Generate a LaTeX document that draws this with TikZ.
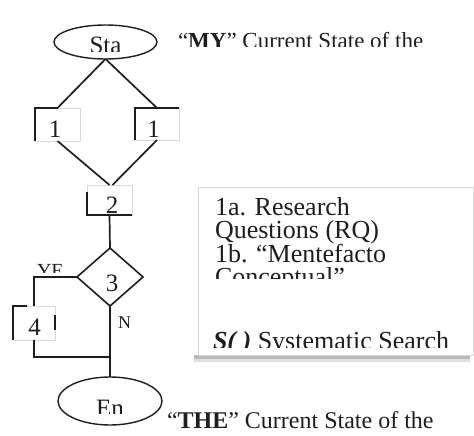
\documentclass[tikz,border=0pt]{standalone}
\usepackage{fontspec}
\setmainfont{Liberation Serif}
\usetikzlibrary{shapes.geometric,calc}
\definecolor{ink}{HTML}{1E1E1E}
\definecolor{faint}{HTML}{D8D8D8}
\begin{document}
\begin{tikzpicture}[x=1pt,y=-1pt,line width=1.7pt,draw=ink,
  shp/.style={draw=faint,line width=0.8pt,inner sep=0pt,outer sep=0pt},
  oval/.style={ellipse,draw=ink,line width=1.4pt,inner sep=0pt,outer sep=0pt},
  dia/.style={diamond,draw=ink,line width=1.6pt,inner sep=0pt,outer sep=0pt},
  txt/.style={inner sep=0pt,outer sep=0pt,text=ink,font=\fontsize{25}{23.3}\selectfont},
  boxtxt/.style={inner sep=0pt,outer sep=0pt,text=ink,font=\fontsize{26}{23.3}\selectfont,anchor=base west},
  lbl/.style={inner sep=0pt,outer sep=0pt,text=ink,font=\fontsize{20}{20}\selectfont},
  edge/.style={draw=ink,line width=1.7pt}]
\useasboundingbox (0,0) rectangle (474,436);

% side text box with shadow
\fill[gray!55] (194,355) rectangle (470,359);
\fill[gray!25] (194,359) rectangle (470,362);
\node[shp,fill=white,draw=faint,minimum width=275pt,minimum height=168pt,anchor=north west] (box) at (198,187) {};

% shapes
\node[oval,minimum width=103pt,minimum height=34pt] (st) at (105.5,42) {};
\node[shp,minimum width=45pt,minimum height=33pt] (b1l) at (57.5,124.5) {};
\node[shp,minimum width=44pt,minimum height=32pt] (b1r) at (157,124) {};
\node[shp,minimum width=45pt,minimum height=30pt] (b2) at (109.5,200) {};
\node[dia,minimum width=66pt,minimum height=58pt] (d3) at (110,277) {};
\node[shp,minimum width=42pt,minimum height=34pt] (b4) at (34,323) {};
\node[oval,minimum width=104pt,minimum height=48pt] (en) at (110,401) {};
\coordinate (j) at (110,357);

% visible box edges
\draw[edge] (b1l.north) -- (b1l.north west) -- (b1l.south west);
\draw[edge] (b1r.north east) -- (b1r.north west) -- (b1r.south west);
\draw[edge] ($(b2.north west)+(0,7)$) -- (b2.south west) -- (b2.south east);
\draw[edge] ($(b4.north west)+(14,0)$) -- (b4.north west) -- (b4.south west);
\draw[edge] ($(b4.north east)+(0,9)$) -- ($(b4.north east)+(0,24)$);

% connectors
\draw[edge] (st.south) -- (b1l.north);
\draw[edge] (st.south) -- (b1r.north);
\draw[edge] (b1l.south) -- (b2.north);
\draw[edge] (b1r.south) -- ($(b2.north)+(3,0)$);
\draw[edge] (b2.south) -- (d3.north);
\draw[edge] (d3.west) -| (b4.north);
\draw[edge] (b4.south) |- (j);
\draw[edge] (d3.south) -- (en.north);

% texts (clipped like the reference)
\begin{scope}
  \clip (0,0) rectangle (474,52);
  \node[txt,anchor=base] (tsta) at (105.5,53.5) {Sta};
\end{scope}
\begin{scope}
  \clip (0,0) rectangle (474,47);
  \node[txt,anchor=base west,font=\fontsize{23}{23}\selectfont] (tmy) at (178,49) {“\textbf{MY}” Current State of the};
\end{scope}
\node[txt,anchor=base] (t1l) at (55,137) {1};
\node[txt,anchor=base] (t1r) at (153.5,137) {1};
\node[txt,anchor=base] (t2) at (112,213) {2};
\node[txt,anchor=base] (t3) at (112,291) {3};
\node[txt,anchor=base] (t4) at (34.5,335) {4};
\begin{scope}
  \clip (0,0) rectangle (474,272);
  \node[lbl,anchor=base west] (tye) at (37,277) {YE};
\end{scope}
\node[lbl,anchor=base west,font=\fontsize{18}{18}\selectfont] (tn) at (118,328) {N};
\begin{scope}
  \clip (0,0) rectangle (474,413);
  \node[txt,anchor=base] (ten) at (110,416.5) {En};
\end{scope}
\node[txt,anchor=base west,font=\fontsize{24}{24}\selectfont] (tthe) at (167,428.5) {“\textbf{THE}” Current State of the};

\node[boxtxt] (l1) at (215,215) {1a. Research};
\node[boxtxt] (l2) at (215,238.5) {Questions (RQ)};
\node[boxtxt] (l3) at (215,262) {1b. “Mentefacto};
\begin{scope}
  \clip (0,0) rectangle (474,278.5);
  \node[boxtxt] (l4) at (215,285.5) {Conceptual”};
\end{scope}
\begin{scope}
  \clip (0,0) rectangle (474,347);
  \node[boxtxt] (l5) at (213,349.5) {\textbf{\textit{S( )}} Systematic Search};
\end{scope}
\end{tikzpicture}
\end{document}
